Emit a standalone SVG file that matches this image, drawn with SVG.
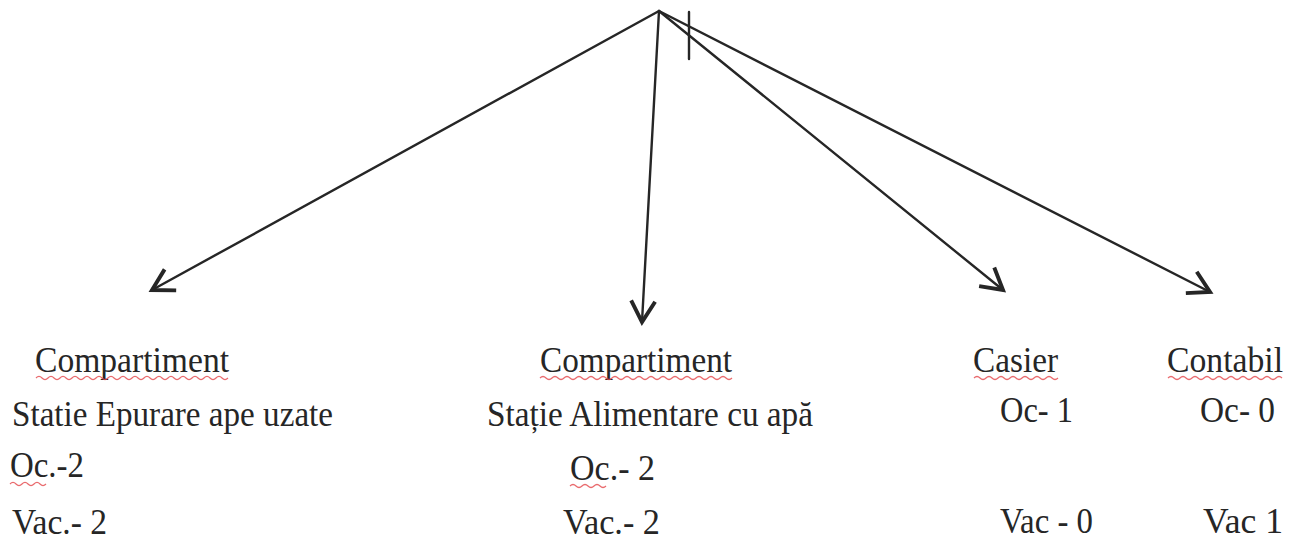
<svg xmlns="http://www.w3.org/2000/svg" width="1301" height="542" viewBox="0 0 1301 542">
<style>
.c{stroke:#262626;stroke-width:2.4;fill:none;stroke-linecap:round}
.t{font-family:'Liberation Serif','Tinos','DejaVu Serif','Noto Serif',serif;font-size:36px;fill:#262626}
.sq{stroke:#e4464a;stroke-width:1.2;fill:none;opacity:0.8}
</style>
<defs>
<marker id="ah" markerUnits="userSpaceOnUse" markerWidth="30" markerHeight="30" refX="0" refY="0" viewBox="-16 -10 20 20" orient="auto">
<path d="M -14 -8 L 0 0 L -14 8" stroke="#262626" stroke-width="2.6" fill="none" stroke-linejoin="miter"/>
</marker>
</defs>
<rect width="1301" height="542" fill="#ffffff"/>
<g id="connectors">
<line class="c" x1="659" y1="11" x2="152" y2="290" marker-end="url(#ah)"/>
<line class="c" x1="659" y1="11" x2="642" y2="322" marker-end="url(#ah)"/>
<line class="c" x1="659" y1="11" x2="1003" y2="290" marker-end="url(#ah)"/>
<line class="c" x1="659" y1="11" x2="1210" y2="292" marker-end="url(#ah)"/>
<line class="c" x1="689" y1="12" x2="689" y2="59"/>
</g>
<g id="node-statie-epurare">
<text class="t" x="35" y="372" textLength="194" lengthAdjust="spacingAndGlyphs">Compartiment</text>
<text class="t" x="12" y="426" textLength="321" lengthAdjust="spacingAndGlyphs">Statie Epurare ape uzate</text>
<text class="t" x="10" y="477" textLength="74" lengthAdjust="spacingAndGlyphs">Oc.-2</text>
<text class="t" x="12" y="534" textLength="95" lengthAdjust="spacingAndGlyphs">Vac.- 2</text>
<path class="sq" d="M36 378 q3 -3 6 0 t6 0 t6 0 t6 0 t6 0 t6 0 t6 0 t6 0 t6 0 t6 0 t6 0 t6 0 t6 0 t6 0 t6 0 t6 0 t6 0 t6 0 t6 0 t6 0 t6 0 t6 0 t6 0 t6 0 t6 0 t6 0 t6 0 t6 0 t6 0 t6 0 t6 0 t6 0"/>
<path class="sq" d="M10 484 q3 -3 6 0 t6 0 t6 0 t6 0 t6 0 t6 0"/>
</g>
<g id="node-statie-alimentare">
<text class="t" x="540" y="372" textLength="192" lengthAdjust="spacingAndGlyphs">Compartiment</text>
<text class="t" x="487" y="426" textLength="326" lengthAdjust="spacingAndGlyphs">Stație Alimentare cu apă</text>
<text class="t" x="570" y="480" textLength="85" lengthAdjust="spacingAndGlyphs">Oc.- 2</text>
<text class="t" x="563" y="534" textLength="97" lengthAdjust="spacingAndGlyphs">Vac.- 2</text>
<path class="sq" d="M540 378 q3 -3 6 0 t6 0 t6 0 t6 0 t6 0 t6 0 t6 0 t6 0 t6 0 t6 0 t6 0 t6 0 t6 0 t6 0 t6 0 t6 0 t6 0 t6 0 t6 0 t6 0 t6 0 t6 0 t6 0 t6 0 t6 0 t6 0 t6 0 t6 0 t6 0 t6 0 t6 0 t6 0"/>
<path class="sq" d="M570 486 q3 -3 6 0 t6 0 t6 0 t6 0 t6 0 t6 0"/>
</g>
<g id="node-casier">
<text class="t" x="973" y="372" textLength="85" lengthAdjust="spacingAndGlyphs">Casier</text>
<text class="t" x="1000" y="422" textLength="73" lengthAdjust="spacingAndGlyphs">Oc- 1</text>
<text class="t" x="1000" y="533" textLength="93" lengthAdjust="spacingAndGlyphs">Vac - 0</text>
<path class="sq" d="M974 378 q3 -3 6 0 t6 0 t6 0 t6 0 t6 0 t6 0 t6 0 t6 0 t6 0 t6 0 t6 0 t6 0 t6 0 t6 0"/>
</g>
<g id="node-contabil">
<text class="t" x="1167" y="372" textLength="116" lengthAdjust="spacingAndGlyphs">Contabil</text>
<text class="t" x="1200" y="422" textLength="75" lengthAdjust="spacingAndGlyphs">Oc- 0</text>
<text class="t" x="1203" y="533" textLength="80" lengthAdjust="spacingAndGlyphs">Vac 1</text>
<path class="sq" d="M1168 378 q3 -3 6 0 t6 0 t6 0 t6 0 t6 0 t6 0 t6 0 t6 0 t6 0 t6 0 t6 0 t6 0 t6 0 t6 0 t6 0 t6 0 t6 0 t6 0 t6 0"/>
</g>
</svg>
